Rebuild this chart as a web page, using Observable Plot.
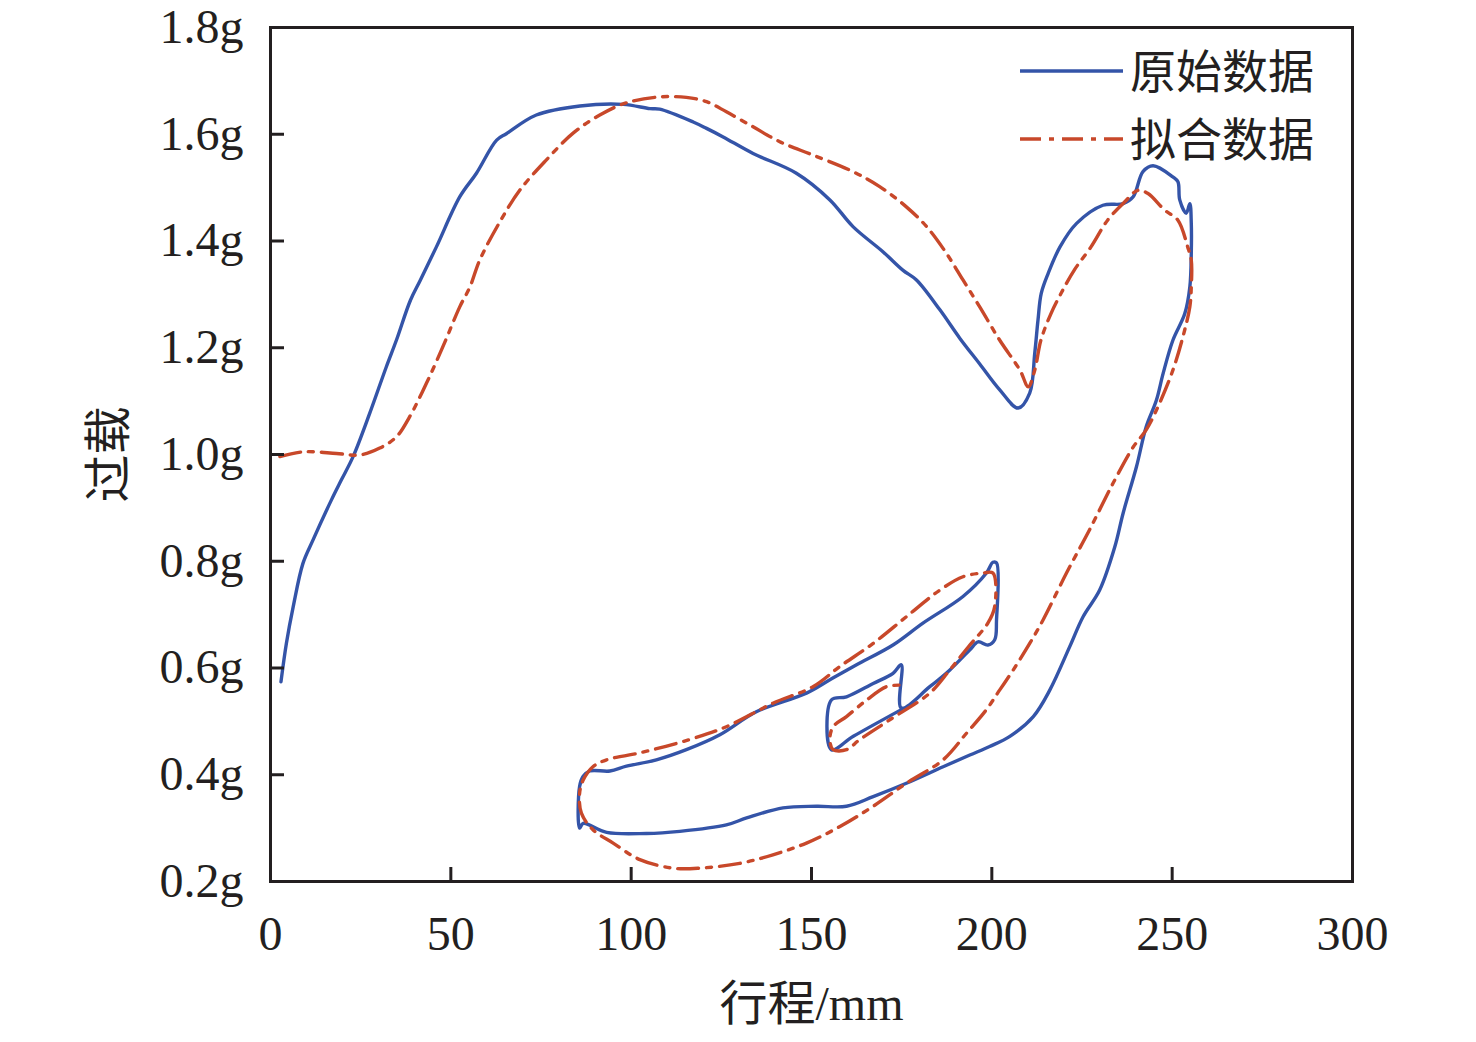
<!DOCTYPE html>
<html>
<head>
<meta charset="utf-8">
<script src="https://cdn.jsdelivr.net/npm/d3@7"></script>
<script src="https://cdn.jsdelivr.net/npm/@observablehq/plot@0.6"></script>
<style>
  html, body { margin: 0; padding: 0; background: #fff; }
  #chart { width: 1476px; height: 1042px; }
</style>
</head>
<body>
<div id="chart"></div>
<script>
// ---- data ----
const xTicks = [0, 50, 100, 150, 200, 250, 300];
const yTicks = [0.2, 0.4, 0.6, 0.8, 1.0, 1.2, 1.4, 1.6, 1.8];
const seriesNames = ["原始数据", "拟合数据"];

// 原始数据 (raw data): stroke (mm), load (g)
const rawX = [2.9,4.4,6.3,9.0,11.8,16.9,19.7,22.9,27.5,32.1,34.9,38.8,41.5,46.0,52.5,57.1,62.7,65.4,73.7,85.8,97.8,105.2,107.9,117.2,120.9,125.5,133.8,145.8,155.1,161.5,169.8,175.4,179.1,185.6,191.1,196.6,202.2,207.3,210.5,211.9,212.8,213.7,215.6,218.9,223.5,230.8,236.4,239.2,241.9,244.7,250.2,251.6,252.1,253.9,254.9,255.3,255.3,254.9,253.5,250.2,247.5,245.6,242.8,240.1,236.4,234.1,229.9,225.3,221.6,216.1,211.5,205.0,199.4,193.9,186.5,176.3,167.1,159.7,151.4,142.1,132.0,126.4,113.5,104.2,93.2,86.7,85.7,85.7,86.7,88.5,94.1,98.7,107.0,115.3,124.6,134.7,148.6,155.1,162.5,172.6,180.9,192.0,198.5,200.3,201.3,201.3,200.8,198.9,196.2,193.9,188.3,182.8,174.9,174.9,172.6,167.1,159.7,155.5,155.5,161.6,174.9];
const rawY = [0.574,0.646,0.715,0.796,0.840,0.915,0.953,0.996,1.077,1.164,1.214,1.289,1.326,1.389,1.483,1.527,1.589,1.601,1.636,1.653,1.656,1.648,1.647,1.623,1.611,1.595,1.564,1.527,1.477,1.427,1.380,1.345,1.327,1.271,1.218,1.170,1.121,1.087,1.115,1.190,1.252,1.302,1.339,1.389,1.433,1.467,1.470,1.483,1.530,1.541,1.520,1.511,1.477,1.452,1.470,1.433,1.377,1.314,1.264,1.214,1.152,1.101,1.052,0.977,0.890,0.827,0.746,0.696,0.640,0.559,0.509,0.472,0.453,0.437,0.415,0.384,0.359,0.341,0.341,0.338,0.319,0.306,0.294,0.290,0.292,0.309,0.300,0.378,0.397,0.407,0.407,0.416,0.428,0.447,0.475,0.518,0.553,0.578,0.606,0.643,0.684,0.734,0.778,0.798,0.797,0.690,0.653,0.643,0.649,0.634,0.596,0.565,0.525,0.606,0.590,0.571,0.546,0.540,0.447,0.472,0.522];

// 拟合数据 (fitted data)
const fitX = [2.6,9.0,18.3,24.7,30.3,34.9,38.6,43.2,47.8,52.5,55.3,58.0,63.6,69.1,76.5,83.9,91.3,98.7,107.9,115.3,120.9,126.4,133.8,141.2,150.4,161.5,168.9,176.3,181.9,187.4,192.0,196.6,202.2,207.8,210.1,211.9,213.6,216.4,219.2,222.9,227.5,232.1,236.8,240.5,243.3,247.9,251.6,254.3,255.3,255.3,254.9,253.0,250.2,246.5,242.8,239.2,233.6,227.1,220.7,214.2,210.5,205.9,202.2,198.5,193.0,186.5,176.3,167.1,157.9,148.6,139.3,130.1,119.0,111.6,102.4,95.0,89.4,86.2,85.7,86.7,89.4,93.2,102.4,116.2,126.4,139.3,150.4,157.9,167.1,176.3,185.6,192.0,197.6,200.3,200.8,198.9,193.9,188.3,182.8,171.7,163.4,159.7,156.0,155.1,156.0,159.7,165.3,170.8,174.9];
const fitY = [0.996,1.005,1.002,0.999,1.012,1.033,1.071,1.133,1.202,1.277,1.314,1.364,1.436,1.495,1.552,1.602,1.636,1.659,1.670,1.669,1.661,1.642,1.614,1.586,1.561,1.530,1.502,1.464,1.427,1.377,1.327,1.277,1.214,1.158,1.127,1.158,1.214,1.264,1.302,1.346,1.389,1.439,1.473,1.495,1.489,1.458,1.439,1.389,1.364,1.314,1.277,1.221,1.158,1.096,1.046,1.014,0.946,0.859,0.778,0.690,0.646,0.596,0.559,0.522,0.478,0.428,0.384,0.341,0.303,0.272,0.250,0.234,0.225,0.225,0.241,0.272,0.297,0.328,0.365,0.390,0.415,0.428,0.441,0.466,0.490,0.534,0.565,0.603,0.646,0.696,0.746,0.771,0.778,0.778,0.715,0.684,0.643,0.596,0.553,0.503,0.466,0.447,0.447,0.466,0.490,0.509,0.540,0.565,0.568];

// ---- build tables ----
const raw = rawX.map((x, i) => ({x, y: rawY[i]}));
const fit = fitX.map((x, i) => ({x, y: fitY[i]}));

const BLUE = "#3454A8";
const RED = "#C8482A";
const INK = "#231F20";
const DASH = "21,8,5,8";
const LW = 3.4;

const plot = Plot.plot({
  width: 1476,
  height: 1042,
  marginLeft: 270,
  marginRight: 124,
  marginTop: 27,
  marginBottom: 161,
  style: {
    fontFamily: "'Liberation Serif', 'Noto Sans CJK SC', serif",
    fontSize: "48px",
    color: INK,
    background: "#fff"
  },
  x: {domain: [0, 300]},
  y: {domain: [0.2, 1.8]},
  marks: [
    Plot.line(raw, {x: "x", y: "y", stroke: BLUE, strokeWidth: LW, curve: "catmull-rom"}),
    Plot.line(fit, {x: "x", y: "y", stroke: RED, strokeWidth: LW, strokeDasharray: DASH, curve: "catmull-rom"}),
    Plot.frame({stroke: INK, strokeWidth: 3}),
    Plot.axisX({
      ticks: xTicks, tickSize: -14, tickPadding: 48, strokeWidth: 3,
      tickFormat: d => String(d),
      label: "行程/mm", labelAnchor: "center", labelOffset: 138, labelArrow: "none"
    }),
    Plot.axisY({
      ticks: yTicks, tickSize: -14, tickPadding: 41, strokeWidth: 3,
      tickFormat: d => d.toFixed(1) + "g",
      label: "过载", labelAnchor: "center", labelOffset: 180, labelArrow: "none"
    })
  ]
});

document.getElementById("chart").appendChild(plot);

// ---- legend inside the plot, top right ----
const svg = d3.select(plot);
const lg = svg.append("g").attr("class", "legend");
const legendItems = [
  {name: seriesNames[0], color: BLUE, dash: null, y: 71},
  {name: seriesNames[1], color: RED, dash: DASH, y: 139}
];
for (const it of legendItems) {
  lg.append("line")
    .attr("x1", 1020).attr("x2", 1123)
    .attr("y1", it.y).attr("y2", it.y)
    .attr("stroke", it.color).attr("stroke-width", LW)
    .attr("stroke-dasharray", it.dash);
  lg.append("text")
    .attr("x", 1130).attr("y", it.y).attr("dy", "0.38em")
    .attr("text-anchor", "start")
    .attr("font-family", "'Noto Sans CJK SC', sans-serif")
    .attr("font-size", 46)
    .attr("fill", INK)
    .text(it.name);
}
</script>
</body>
</html>
